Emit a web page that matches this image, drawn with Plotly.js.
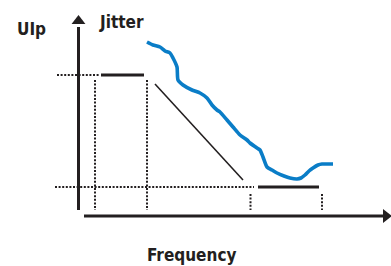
<!DOCTYPE html>
<html><head><meta charset="utf-8">
<script src="https://cdn.plot.ly/plotly-3.0.1.min.js"></script>
<style>html,body{margin:0;padding:0;background:#fff}#c{width:391px;height:266px}</style>
</head><body><div id="c"></div>
<script>
// Schematic units: x = frequency position, y = jitter level (downwards positive in view)
const axisYx = [78.5, 78.5], axisYy = [210, 27];
const axisXx = [84, 384], axisXy = [216, 216];
const arrowUp = {x: [78.5], y: [21]};
const arrowRight = {x: [386], y: [216]};

const maskHighX = [101, 144], maskHighY = [75, 75];
const maskSlopeX = [155, 243], maskSlopeY = [84, 180];
const maskLowX = [258, 319], maskLowY = [187, 187];

const guideTopX = [57, 100], guideTopY = [75, 75];
const guideBotX = [55, 254], guideBotY = [187, 187];
const guideV1X = [95, 95], guideV1Y = [80, 210];
const guideV2X = [147, 147], guideV2Y = [80, 210];
const guideV3X = [250.5, 250.5], guideV3Y = [194, 210];
const guideV4X = [322, 322], guideV4Y = [194, 210];

const jitterX = [147,153,160,165,170,173,177,178,183,192,200,207,212,217,220,227,233,240,247,250,257,260,263,267,272,277,284,290,297,301,305,309,313,318,322,327,333];
const jitterY = [42,45,47,51,53,58,67,80,85,90,93,98,105,110,112,120,127,135,140,143,148,150,157,167,170,173,176,178,179,178,175,171,168,165,164,164,164];

const labels = [
  {text: 'UIp', x: 15, y: 29},
  {text: 'Jitter', x: 97, y: 22},
  {text: 'Frequency', x: 145, y: 255}
];

const ink = '#231f20';
const dotLine = {color: ink, width: 2, dash: '2px,1.6px'};
function tr(x, y, line) { return {type: 'scatter', mode: 'lines', x: x, y: y, line: line, hoverinfo: 'skip', showlegend: false}; }

const data = [
  tr(guideTopX, guideTopY, dotLine),
  tr(guideBotX, guideBotY, dotLine),
  tr(guideV1X, guideV1Y, dotLine),
  tr(guideV2X, guideV2Y, dotLine),
  tr(guideV3X, guideV3Y, dotLine),
  tr(guideV4X, guideV4Y, dotLine),
  tr(axisYx, axisYy, {color: ink, width: 3}),
  tr(axisXx, axisXy, {color: ink, width: 3}),
  tr(maskHighX, maskHighY, {color: ink, width: 3}),
  tr(maskSlopeX, maskSlopeY, {color: ink, width: 1.6}),
  tr(maskLowX, maskLowY, {color: ink, width: 2.8}),
  tr(jitterX, jitterY, {color: '#0a7dc7', width: 3.6, shape: 'spline', smoothing: 0.6}),
  {type: 'scatter', mode: 'markers', x: arrowUp.x, y: arrowUp.y, marker: {symbol: 'triangle-up', size: 12, color: ink}, hoverinfo: 'skip', showlegend: false},
  {type: 'scatter', mode: 'markers', x: arrowRight.x, y: arrowRight.y, marker: {symbol: 'triangle-right', size: 12, color: ink}, hoverinfo: 'skip', showlegend: false}
];

const layout = {
  width: 391, height: 266,
  margin: {l: 0, r: 0, t: 0, b: 0},
  paper_bgcolor: '#fff', plot_bgcolor: '#fff',
  xaxis: {range: [0, 391], visible: false, fixedrange: true},
  yaxis: {range: [266, 0], visible: false, fixedrange: true},
  annotations: labels.map(l => ({
    text: '<b>' + l.text + '</b>', x: l.x, y: l.y, xref: 'x', yref: 'y',
    xanchor: 'left', yanchor: 'middle', showarrow: false,
    font: {family: 'DejaVu Sans Condensed, Liberation Sans Narrow, sans-serif', size: 17, color: ink}
  }))
};

Plotly.newPlot('c', data, layout, {staticPlot: true, displayModeBar: false});
</script></body></html>
